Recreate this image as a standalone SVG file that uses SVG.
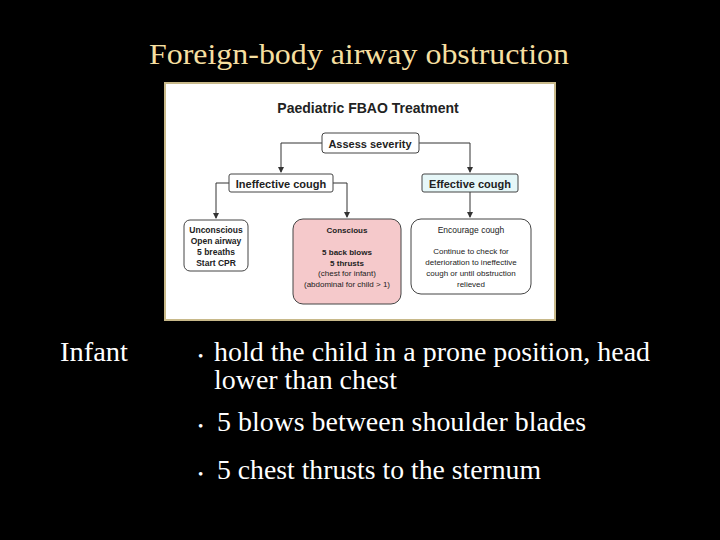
<svg xmlns="http://www.w3.org/2000/svg" width="720" height="540" viewBox="0 0 720 540">
<style>
.b{fill:#fff;stroke:#444;stroke-width:1}
.t{font-family:"Liberation Sans",Arial,sans-serif;fill:#222;text-anchor:middle}
.c{stroke:#333;stroke-width:1;fill:none}
.s{font-family:"Liberation Serif","Times New Roman",serif;font-size:27px;fill:#fff}
.d{font-family:"Liberation Serif","Times New Roman",serif;font-size:15px;fill:#fff}
</style>
<defs><marker id="a" markerWidth="6" markerHeight="6" refX="5" refY="3" orient="auto"><path d="M0,0 L6,3 L0,6 z" fill="#333"/></marker></defs>
<rect width="720" height="540" fill="#000"/>
<text x="149" y="64" font-family="Liberation Serif,serif" font-size="30" fill="#f5dfa0" textLength="420" lengthAdjust="spacingAndGlyphs">Foreign-body airway obstruction</text>
<rect x="165" y="83" width="390" height="237" fill="#fff" stroke="#c8b98a" stroke-width="2"/>
<text class="t" x="368" y="113" font-size="14" font-weight="bold">Paediatric FBAO Treatment</text>
<g id="connectors">
<path class="c" d="M322,143 H281 V172" marker-end="url(#a)"/>
<path class="c" d="M419,143 H470 V172" marker-end="url(#a)"/>
<path class="c" d="M229,183 H216 V218" marker-end="url(#a)"/>
<path class="c" d="M333,183 H347 V217" marker-end="url(#a)"/>
<path class="c" d="M470,192 V217" marker-end="url(#a)"/>
</g>
<g id="assess"><rect class="b" x="322" y="133" width="97" height="20" rx="3"/><text class="t" x="370" y="147.5" font-size="11" font-weight="bold">Assess severity</text></g>
<g id="ineffective"><rect class="b" x="229" y="174" width="104" height="18" rx="2"/><text class="t" x="281" y="187.5" font-size="11" font-weight="bold">Ineffective cough</text></g>
<g id="effective"><rect x="422" y="174" width="96" height="18" rx="2" fill="#e6f7f8" stroke="#444"/><text class="t" x="470" y="187.5" font-size="11" font-weight="bold">Effective cough</text></g>
<g id="unconscious"><rect class="b" x="184" y="220" width="64" height="51" rx="6"/>
<text class="t" font-size="8.5" font-weight="bold"><tspan x="216" y="233">Unconscious</tspan><tspan x="216" y="244">Open airway</tspan><tspan x="216" y="255">5 breaths</tspan><tspan x="216" y="266">Start CPR</tspan></text></g>
<g id="conscious"><rect x="293" y="219" width="108" height="85" rx="10" fill="#f5c9cb" stroke="#444"/>
<text class="t" font-size="8" font-weight="bold"><tspan x="347" y="233">Conscious</tspan><tspan x="347" y="255">5 back blows</tspan><tspan x="347" y="266">5 thrusts</tspan></text>
<text class="t" font-size="8"><tspan x="347" y="276">(chest for infant)</tspan><tspan x="347" y="287">(abdominal for child &gt; 1)</tspan></text></g>
<g id="encourage"><rect class="b" x="411" y="219" width="120" height="75" rx="10"/>
<text class="t" font-size="8.5"><tspan x="471" y="233">Encourage cough</tspan></text>
<text class="t" font-size="8"><tspan x="471" y="254">Continue to check for</tspan><tspan x="471" y="265">deterioration to ineffective</tspan><tspan x="471" y="276">cough or until obstruction</tspan><tspan x="471" y="287">relieved</tspan></text></g>
<text class="s" x="60" y="361" textLength="68" lengthAdjust="spacingAndGlyphs">Infant</text>
<text class="d" x="198" y="361">•</text>
<text class="s" x="214" y="361" textLength="436" lengthAdjust="spacingAndGlyphs">hold the child in a prone position, head</text>
<text class="s" x="214" y="389" textLength="183" lengthAdjust="spacingAndGlyphs">lower than chest</text>
<text class="d" x="198" y="431">•</text>
<text class="s" x="217" y="431" textLength="369" lengthAdjust="spacingAndGlyphs">5 blows between shoulder blades</text>
<text class="d" x="198" y="479">•</text>
<text class="s" x="217" y="479" textLength="324" lengthAdjust="spacingAndGlyphs">5 chest thrusts to the sternum</text>
</svg>
